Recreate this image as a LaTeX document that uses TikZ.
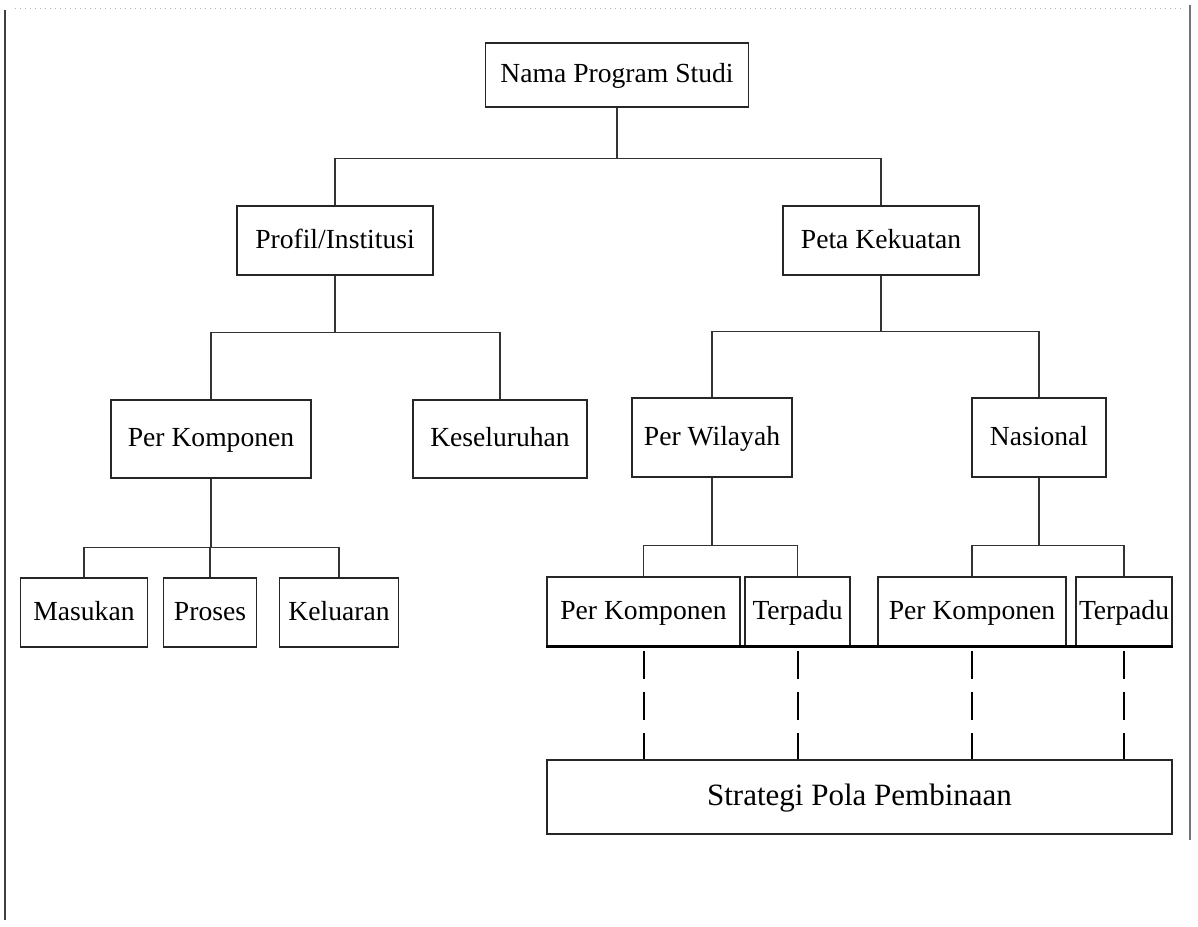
\documentclass[tikz,border=0pt]{standalone}
\usepackage{fontspec}
\setmainfont{Liberation Serif}
\begin{document}
\begin{tikzpicture}[x=0.5pt,y=-0.5pt,
  box/.style={draw=black!85, line width=0.75pt, inner sep=0pt,
    text height=10pt, text depth=2.5pt,
    font=\fontsize{13.8}{16}\selectfont, text=black},
  bigbox/.style={box, text height=11pt, text depth=3pt,
    font=\fontsize{15.5}{18}\selectfont},
  link/.style={draw=black!80, line width=0.7pt},
  thickrule/.style={draw=black, line width=1.6pt},
  dashlink/.style={draw=black, line width=1pt, dash pattern=on 14pt off 6.5pt},
  pageedge/.style={draw=black!75, line width=1pt}]
\useasboundingbox (0,0) rectangle (1198,926);

% page edges
\draw[pageedge] (5,10) -- (5,920);
\draw[draw=black!55, line width=0.6pt] (1190,5) -- (1190,840);
\draw[draw=black!30, line width=0.5pt, dotted] (15,8) -- (1185,8);

% level 0
\node[box, minimum width=131.5pt, minimum height=32pt] (nama) at (617,75) {Nama Program Studi};

% level 1
\node[box, minimum width=98pt, minimum height=34.5pt] (profil) at (335,240.5) {Profil/Institusi};
\node[box, minimum width=98pt, minimum height=34.5pt] (peta) at (881,240.5) {Peta Kekuatan};

% level 2
\node[box, minimum width=100pt, minimum height=39pt] (pk1) at (211,439) {Per Komponen};
\node[box, minimum width=87pt, minimum height=39pt] (kes) at (500,439) {Keseluruhan};
\node[box, minimum width=80pt, minimum height=39.5pt] (pw) at (712,437.5) {Per Wilayah};
\node[box, minimum width=67pt, minimum height=39.5pt] (nas) at (1039,437.5) {Nasional};

% level 3, left
\node[box, minimum width=63.5pt, minimum height=34.5pt] (mas) at (84,612.5) {Masukan};
\node[box, minimum width=46.5pt, minimum height=34.5pt] (pro) at (210,612.5) {Proses};
\node[box, minimum width=59.5pt, minimum height=34.5pt] (kel) at (339,612.5) {Keluaran};

% level 3, right
\node[box, minimum width=96.5pt, minimum height=34.5pt] (pk2) at (643.5,611.5) {Per Komponen};
\node[box, minimum width=52.5pt, minimum height=34.5pt] (tp2) at (797.5,611.5) {Terpadu};
\node[box, minimum width=94pt, minimum height=34.5pt] (pk3) at (972,611.5) {Per Komponen};
\node[box, minimum width=48pt, minimum height=34.5pt] (tp3) at (1124,611.5) {Terpadu};

% strategy
\node[bigbox, minimum width=312.5pt, minimum height=37pt] (strat) at (859.5,797) {Strategi Pola Pembinaan};

% bus points below each parent
\path (nama.south) ++(0,51) coordinate (bus0);
\path (profil.south) ++(0,57) coordinate (bus1);
\path (peta.south) ++(0,56) coordinate (bus2);
\path (pk1.south) ++(0,69) coordinate (bus3);
\path (pw.south) ++(0,68) coordinate (bus4);
\path (nas.south) ++(0,68) coordinate (bus5);

% tree connectors
\draw[link] (nama.south) -- (bus0);
\draw[link] (profil.north) |- (bus0) -| (peta.north);
\draw[link] (profil.south) -- (bus1);
\draw[link] (pk1.north) |- (bus1) -| (kes.north);
\draw[link] (peta.south) -- (bus2);
\draw[link] (pw.north) |- (bus2) -| (nas.north);
\draw[link] (pk1.south) -- (bus3);
\draw[link] (mas.north) |- (bus3) -| (kel.north);
\draw[link] (pro.north) -- (pro.north |- bus3);
\draw[link] (pw.south) -- (bus4);
\draw[link] (pk2.north) |- (bus4) -| (tp2.north);
\draw[link] (nas.south) -- (bus5);
\draw[link] (pk3.north) |- (bus5) -| (tp3.north);

% heavy base rule under the right-hand row
\draw[thickrule] (pk2.south west) -- (tp3.south east);

% dashed links down to the strategy box
\foreach \n in {pk2,tp2,pk3,tp3}
  \draw[dashlink] ([yshift=-2pt]\n.south) -- (\n.south |- strat.north);
\end{tikzpicture}
\end{document}
